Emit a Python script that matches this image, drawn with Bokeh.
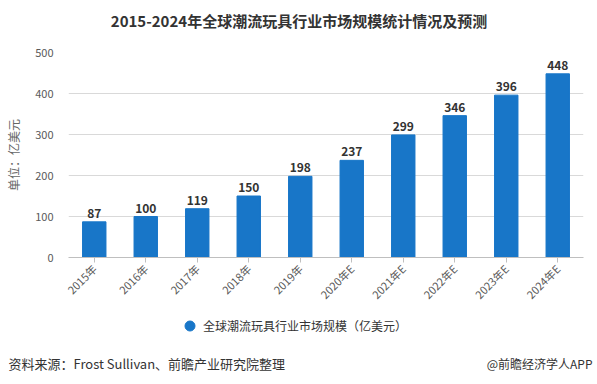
from math import pi
from bokeh.plotting import figure
from bokeh.layouts import column
from bokeh.models import ColumnDataSource, Range1d, FactorRange, Legend, LegendItem, FixedTicker
from bokeh.core.properties import value
from bokeh.embed import file_html
from bokeh.resources import INLINE

years = ["2015年", "2016年", "2017年", "2018年", "2019年", "2020年E", "2021年E", "2022年E", "2023年E", "2024年E"]
market = [87, 100, 119, 150, 198, 237, 299, 346, 396, 448]
yticks = [0, 100, 200, 300, 400, 500]

title_text = "2015-2024年全球潮流玩具行业市场规模统计情况及预测"
series_name = "全球潮流玩具行业市场规模（亿美元）"
y_label = "单位：亿美元"
source_text = "资料来源：Frost Sullivan、前瞻产业研究院整理"
brand_text = "@前瞻经济学人APP"

CJK = "Noto Sans CJK SC"
BAR = "#1876c8"
W = 597


def blank(h):
    f = figure(width=W, height=h, x_range=Range1d(0, W), y_range=Range1d(h, 0),
               x_axis_type=None, y_axis_type=None, output_backend="svg", toolbar_location=None,
               min_border=0, frame_align=False)
    f.outline_line_color = None
    f.grid.visible = False
    return f


# header with title
head = blank(44)
head.text(x=[298.5], y=[20], text=[title_text], text_align="center", text_baseline="middle",
          text_font=value(CJK), text_font_style="bold", text_font_size="15px", text_color="#333333")

# main chart
src = ColumnDataSource(dict(x=years, y=market, t=[str(v) for v in market]))
p = figure(width=W, height=266, x_range=FactorRange(*years, range_padding=0),
           y_range=Range1d(0, 500), output_backend="svg", toolbar_location=None,
           min_border_left=68, min_border_right=14, min_border_top=8, min_border_bottom=53,
           frame_align=False)
p.outline_line_color = None

p.vbar(x="x", top="y", width=0.455, source=src, color=BAR)
p.text(x="x", y="y", text="t", source=src, y_offset=-4, text_align="center",
       text_baseline="bottom", text_font=value(CJK), text_font_style="bold",
       text_font_size="12px", text_color="#333333")

p.yaxis.ticker = FixedTicker(ticks=yticks)
p.yaxis.axis_line_color = None
p.yaxis.major_tick_line_color = None
p.yaxis.major_tick_out = 0
p.yaxis.major_tick_in = 0
p.yaxis.minor_tick_line_color = None
p.yaxis.major_label_standoff = 15
p.yaxis.major_label_text_font = CJK
p.yaxis.major_label_text_font_size = "11px"
p.yaxis.major_label_text_color = "#595959"
p.yaxis.axis_label = y_label
p.yaxis.axis_label_standoff = 10
p.yaxis.axis_label_text_font = CJK
p.yaxis.axis_label_text_font_size = "12px"
p.yaxis.axis_label_text_font_style = "normal"
p.yaxis.axis_label_text_color = "#666666"

p.xaxis.axis_line_color = "#bfbfbf"
p.xaxis.major_tick_line_color = "#bfbfbf"
p.xaxis.major_tick_out = 5
p.xaxis.major_tick_in = 0
p.xaxis.major_label_orientation = pi / 4
p.xaxis.major_label_text_font = CJK
p.xaxis.major_label_text_font_size = "11px"
p.xaxis.major_label_text_color = "#595959"
p.xaxis.major_label_standoff = 4

p.xgrid.grid_line_color = None
p.ygrid.grid_line_color = "#d9d9d9"

# footer with legend and source notes
foot = blank(74)
proxy = foot.scatter(x=[0], y=[0], marker="circle", size=10, color=BAR, visible=False)
leg = Legend(items=[LegendItem(label=series_name, renderers=[proxy])],
             location=(177, 46), orientation="horizontal",
             label_text_font=CJK, label_text_font_size="12px", label_text_color="#333333",
             glyph_width=25, glyph_height=25, label_height=25, label_standoff=1,
             padding=0, margin=0, border_line_color=None, background_fill_alpha=0,
             inactive_fill_alpha=0)
foot.add_layout(leg, "center")
foot.text(x=[8], y=[53], text=[source_text], text_align="left", text_baseline="middle",
          text_font=value(CJK), text_font_size="13px", text_color="#333333")
foot.text(x=[592], y=[53], text=[brand_text], text_align="right", text_baseline="middle",
          text_font=value(CJK), text_font_size="12px", text_color="#333333")

layout = column(head, p, foot, spacing=0)
open("out.html", "w").write(file_html(layout, INLINE))
